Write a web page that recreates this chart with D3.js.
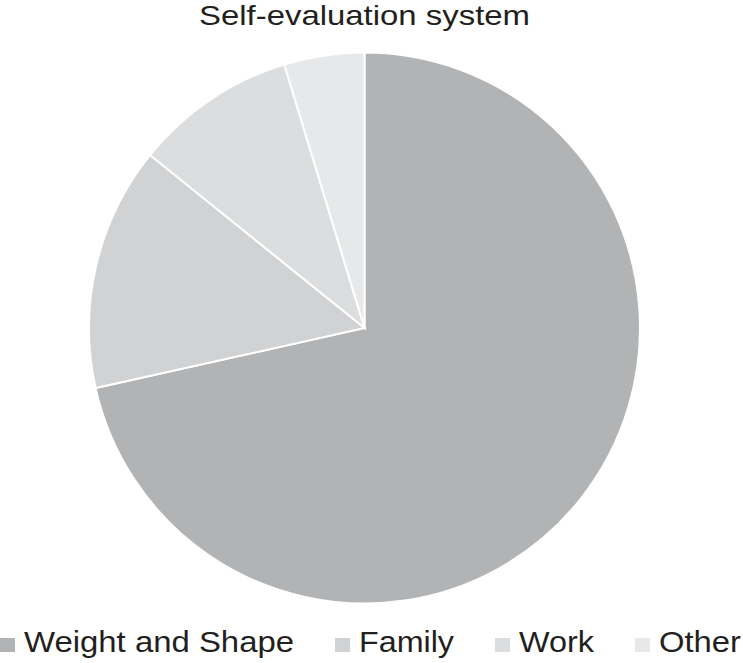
<!DOCTYPE html>
<html><head><meta charset="utf-8">
<script src="https://cdn.jsdelivr.net/npm/d3@7"></script>
<style>html,body{margin:0;padding:0;background:#fff;}svg{display:block;}</style>
</head><body>
<svg id="c" width="743" height="663"></svg>
<script>
const title = "Self-evaluation system";
const categories = ["Weight and Shape", "Family", "Work", "Other"];
const values = [71.5, 14.3, 9.5, 4.7];
const colors = ["#b2b3b5", "#d1d2d4", "#dcdddf", "#e7e8e9"];

const svg = d3.select("#c");
const cx = 364.5, cy = 328, r = 275.5;
const font = "'Liberation Sans', Arial, sans-serif";

svg.append("text").attr("x", 199).attr("y", 25)
  .attr("font-family", font).attr("font-size", 28).attr("fill", "#231f20")
  .attr("textLength", 331).attr("lengthAdjust", "spacingAndGlyphs").text(title);

const data = categories.map((c, i) => ({cat: c, v: values[i]}));
const pie = d3.pie().value(d => d.v).sort(null);
const arc = d3.arc().innerRadius(0).outerRadius(r);
const color = d3.scaleOrdinal().domain(categories).range(colors);

svg.append("g").attr("transform", `translate(${cx},${cy})`)
  .selectAll("path").data(pie(data)).join("path")
  .attr("d", arc).attr("fill", d => color(d.data.cat))
  .attr("stroke", "#fff").attr("stroke-width", 2);

// legend layout (pixel widths of label text in the reference)
const labelW = [270, 95, 75, 82];
const lg = svg.append("g");
let x = 0;
categories.forEach((c, i) => {
  lg.append("rect").attr("x", x).attr("y", 638).attr("width", 15).attr("height", 14).attr("fill", color(c));
  lg.append("text").attr("x", x + 24).attr("y", 652)
    .attr("font-family", font).attr("font-size", 29).attr("fill", "#231f20")
    .attr("textLength", labelW[i]).attr("lengthAdjust", "spacingAndGlyphs").text(c);
  x = x + 24 + labelW[i] + 41;
});
</script>
</body></html>
